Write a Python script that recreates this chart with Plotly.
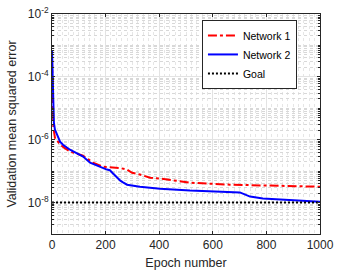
import plotly.graph_objects as go

# Data
net1_epochs = [0, 3, 5, 11, 20, 30, 45, 67, 116, 153, 190, 254, 280, 299, 328, 366, 403, 515, 664, 1000]
net1_mse = [4e-4, 6.3e-6, 2.5e-6, 1.15e-6, 8.9e-7, 7.1e-7, 5.6e-7, 4.2e-7, 3.1e-7, 1.86e-7,
            1.38e-7, 1.26e-7, 1.12e-7, 8.9e-8, 7.8e-8, 6.2e-8, 5.8e-8, 4.3e-8, 3.7e-8, 3.2e-8]

net2_epochs = [0, 1, 2, 4, 7, 11, 22, 30, 41, 67, 116, 142, 205, 216, 225, 243, 255, 265, 280, 328,
               403, 515, 701, 739, 787, 1000]
net2_mse = [7.2e-4, 3e-4, 1.15e-4, 1.9e-5, 3.5e-6, 2.1e-6, 1.26e-6, 8.7e-7, 6.9e-7, 4.8e-7, 2.9e-7,
            1.86e-7, 1.12e-7, 1.07e-7, 8.9e-8, 6.2e-8, 5e-8, 4.4e-8, 3.7e-8, 3.2e-8, 2.75e-8, 2.4e-8,
            2.1e-8, 1.55e-8, 1.35e-8, 1.07e-8]

goal_epochs = [0, 1000]
goal_mse = [1e-8, 1e-8]

x_ticks = [0, 200, 400, 600, 800, 1000]
y_tick_exps = [-8, -6, -4, -2]

FONT = "Liberation Sans, Arial, sans-serif"

fig = go.Figure()
fig.add_trace(go.Scatter(x=net1_epochs, y=net1_mse, mode="lines", name="Network 1",
                         line=dict(color="#ff0000", width=2, dash="dashdot")))
fig.add_trace(go.Scatter(x=net2_epochs, y=net2_mse, mode="lines", name="Network 2",
                         line=dict(color="#0000ff", width=2)))
fig.add_trace(go.Scatter(x=goal_epochs, y=goal_mse, mode="lines", name="Goal",
                         line=dict(color="#000000", width=2, dash="2px,2px")))

y_minor = []
for d in range(-9, -2):
    for k in range(1, 10):
        v = k * 10.0 ** d
        if k == 1 and d % 2 == 0:
            continue
        y_minor.append(v)

fig.update_layout(
    width=346, height=277,
    margin=dict(l=52, r=26, t=14, b=43, autoexpand=False),
    paper_bgcolor="white", plot_bgcolor="white",
    font=dict(family=FONT, size=12, color="#262626"),
    showlegend=True,
    legend=dict(x=0.914, xanchor="right", y=0.973, yanchor="top",
                bgcolor="white", bordercolor="#262626", borderwidth=1,
                font=dict(size=10.5, color="#000000"), itemwidth=30,
                tracegroupgap=0),
)

fig.update_xaxes(
    range=[0, 1000], tickvals=x_ticks, ticktext=[str(v) for v in x_ticks],
    automargin=False,
    tickfont=dict(size=12),
    showline=True, linecolor="#262626", linewidth=1, mirror="ticks",
    ticks="inside", ticklen=3, tickcolor="#262626",
    showgrid=True, gridcolor="#e3e3e3", gridwidth=1,
    zeroline=False,
    title=dict(text="Epoch number", font=dict(size=12.5, color="#262626"), standoff=6),
    minor=dict(dtick=20, tick0=0, showgrid=True, gridcolor="#e6e6e6", griddash="dot", gridwidth=1, ticks=""),
)

fig.update_yaxes(
    type="log", range=[-9, -2],
    tickvals=[10.0 ** e for e in y_tick_exps],
    ticktext=["10<sup>%d</sup>" % e for e in y_tick_exps],
    automargin=False,
    tickfont=dict(size=12),
    showline=True, linecolor="#262626", linewidth=1, mirror="ticks",
    ticks="inside", ticklen=3, tickcolor="#262626",
    showgrid=True, gridcolor="#e3e3e3", gridwidth=1,
    zeroline=False,
    title=dict(text="Validation mean squared error", font=dict(size=12.5, color="#262626"), standoff=8),
    minor=dict(tickmode="array", tickvals=y_minor, showgrid=True, gridcolor="#d8d8d8",
               griddash="dot", gridwidth=1, ticks="inside", ticklen=2, tickcolor="#262626"),
)

fig.write_html("out.html", config={"displayModeBar": False},
               post_script="document.body.style.margin='0px';")
